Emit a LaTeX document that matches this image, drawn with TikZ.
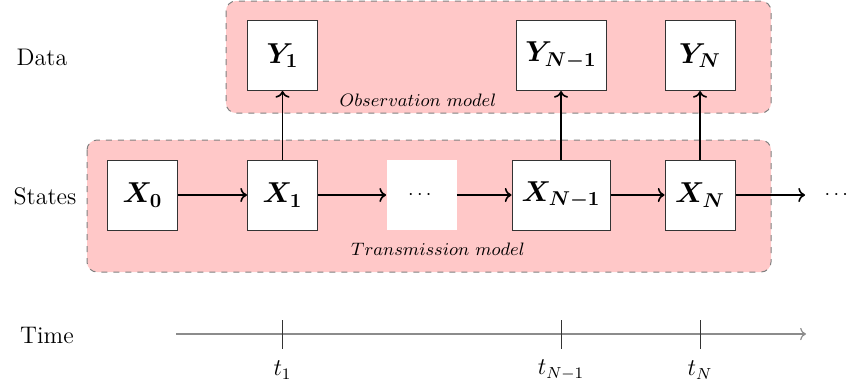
\documentclass[tikz,border=0pt]{standalone}
\usepackage{amsmath,amssymb}
\usetikzlibrary{arrows.meta}
\definecolor{modelpink}{RGB}{255,200,200}
\begin{document}
\begin{tikzpicture}[x=0.5pt,y=-0.5pt,
  region/.style={draw=black!50,dashed,fill=modelpink,rounded corners=5pt,line width=0.5pt},
  statebox/.style={draw=black!80,fill=white,minimum width=35pt,minimum height=35pt,inner sep=2pt,font=\Large,line width=0.5pt},
  gap/.style={fill=white,minimum width=35pt,minimum height=35pt,inner sep=0pt},
  flow/.style={->,thick},
  axis/.style={->,black!45,line width=0.6pt},
  tick/.style={black!80,line width=0.5pt},
  rowlabel/.style={font=\large},
  modellabel/.style={font=\small}
]
\useasboundingbox (0,0) rectangle (850,387);
% regions
\draw[region] (226,1) rectangle (771,113);
\draw[region] (87,140) rectangle (771,272);
\node[modellabel] (obs) at (418,100) {$Observation\ model$};
\node[modellabel] (tra) at (438,249) {$Transmission\ model$};
% row labels
\node[rowlabel] (data) at (42,57) {Data};
\node[rowlabel] (states) at (45,196) {States};
\node[rowlabel] (time) at (47,335) {Time};
% observations
\node[statebox] (y1) at (282.5,55.5) {$\boldsymbol{Y_1}$};
\node[statebox,minimum width=45pt] (yn1) at (561,55.5) {$\boldsymbol{Y_{N-1}}$};
\node[statebox] (yn) at (700,55.5) {$\boldsymbol{Y_N}$};
% states
\node[statebox] (x0) at (142.5,195) {$\boldsymbol{X_0}$};
\node[statebox] (x1) at (282.5,195) {$\boldsymbol{X_1}$};
\node[gap] (xd) at (421.5,195) {$\cdots$};
\node[statebox,minimum width=49pt] (xn1) at (561,195) {$\boldsymbol{X_{N-1}}$};
\node[statebox] (xn) at (700,195) {$\boldsymbol{X_N}$};
\coordinate (xend) at (805,195);
\node (xmore) at (838,195) {$\cdots$};
% transitions
\draw[flow] (x0) -- (x1);
\draw[flow] (x1) -- (xd);
\draw[flow] (xd) -- (xn1);
\draw[flow] (xn1) -- (xn);
\draw[flow] (xn) -- (xend);
% observations arrows
\draw[flow] (x1) -- (y1);
\draw[flow] (xn1) -- (yn1);
\draw[flow] (xn) -- (yn);
% time axis
\coordinate (ta) at (176,334);
\coordinate (tb) at (806,334);
\draw[axis] (ta) -- (tb);
\coordinate (k1a) at (282.5,320); \coordinate (k1b) at (282.5,349);
\coordinate (k2a) at (561,320); \coordinate (k2b) at (561,349);
\coordinate (k3a) at (700,320); \coordinate (k3b) at (700,349);
\draw[tick] (k1a) -- (k1b);
\draw[tick] (k2a) -- (k2b);
\draw[tick] (k3a) -- (k3b);
\node[font=\large] (t1) at (282.5,370) {$t_1$};
\node[font=\large] (tn1) at (561,370) {$t_{N-1}$};
\node[font=\large] (tn) at (700,370) {$t_N$};
\end{tikzpicture}
\end{document}
